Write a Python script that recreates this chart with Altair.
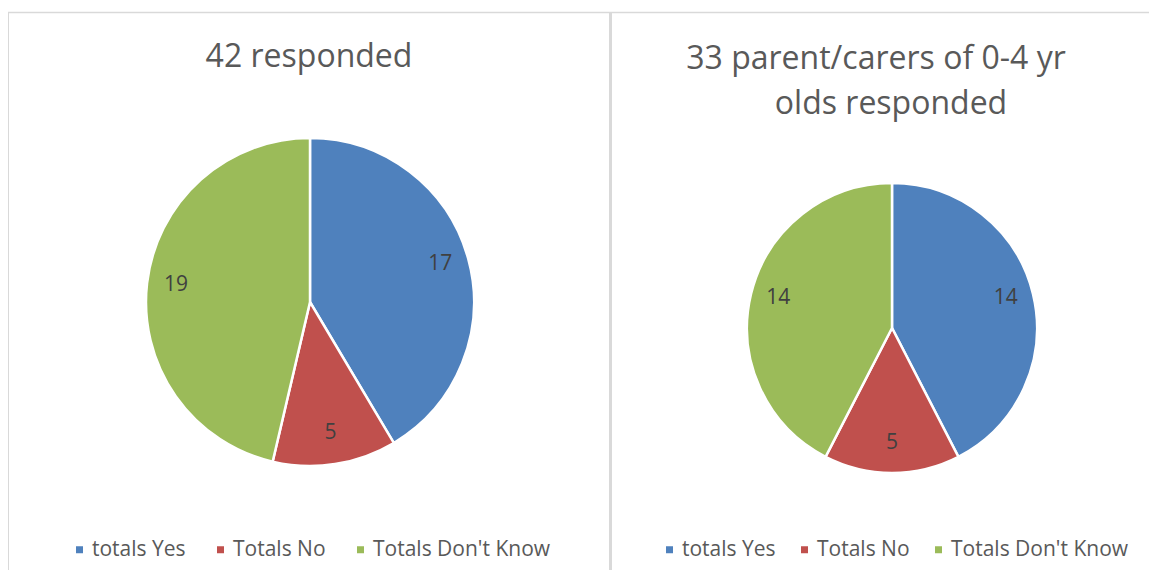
import altair as alt
import pandas as pd

categories = ["totals Yes", "Totals No", "Totals Don't Know"]
left_values = [17, 5, 19]
right_values = [14, 5, 14]
left_title = "42 responded"
right_title = ["33 parent/carers of 0-4 yr", "olds responded"]
colors = ["#4F81BD", "#C0504D", "#9BBB59"]

FONT = "Open Sans"
W, H = 1141, 562

left_df = pd.DataFrame({"cat": categories, "count": left_values, "idx": list(range(3))})
right_df = pd.DataFrame({"cat": categories, "count": right_values, "idx": list(range(3))})
one = pd.DataFrame({"a": [0]})


def pie(df, cx, cy, r, lx, ly, lr, colpad):
    legend = alt.Legend(
        orient="none", legendX=lx, legendY=ly, direction="horizontal", title=None,
        symbolType="square", symbolSize=49, symbolStrokeWidth=0,
        labelFontSize=21, labelFont=FONT, labelColor="#595959", labelLimit=400,
        columnPadding=colpad, labelOffset=2, padding=0,
    )
    base = alt.Chart(df)
    arc = base.mark_arc(radius=r, stroke="white", strokeWidth=2.5).encode(
        theta=alt.Theta("count:Q", stack=True),
        color=alt.Color("cat:N", scale=alt.Scale(domain=categories, range=colors),
                        sort=categories, legend=legend),
        order=alt.Order("idx:Q"),
        x=alt.value(cx), y=alt.value(cy),
    )
    txt = base.mark_text(radius=lr, fontSize=21, font=FONT, color="#404040").encode(
        theta=alt.Theta("count:Q", stack=True),
        text=alt.Text("count:Q"),
        order=alt.Order("idx:Q"),
        x=alt.value(cx), y=alt.value(cy - 2),
    )
    return alt.layer(arc, txt)


border = "#d9d9d9"
top_line = alt.Chart(one).mark_rule(color=border, strokeWidth=1.5).encode(
    x=alt.value(0), x2=alt.value(W), y=alt.value(4.5))
left_line = alt.Chart(one).mark_rule(color=border, strokeWidth=2).encode(
    x=alt.value(0), y=alt.value(4), y2=alt.value(H))
mid_line = alt.Chart(one).mark_rule(color=border, strokeWidth=3).encode(
    x=alt.value(602.5), y=alt.value(4), y2=alt.value(H))

title_style = dict(fontSize=32, font=FONT, color="#595959", baseline="alphabetic", align="center")
t1 = alt.Chart(one).mark_text(**title_style).encode(
    text=alt.value(left_title), x=alt.value(301), y=alt.value(59))
t2 = alt.Chart(one).mark_text(**title_style).encode(
    text=alt.value(right_title[0]), x=alt.value(868), y=alt.value(61))
t3 = alt.Chart(one).mark_text(**title_style).encode(
    text=alt.value(right_title[1]), x=alt.value(883), y=alt.value(106))

left_pie = pie(left_df, 302, 294, 164, 61, 531, 135, 24)
right_pie = pie(right_df, 884, 320, 145, 651, 531, 117, 18)

chart = alt.layer(
    top_line, left_line, mid_line, t1, t2, t3, left_pie, right_pie
).resolve_scale(color="independent", theta="independent").properties(
    width=W, height=H, autosize=alt.AutoSizeParams(type="none"), padding=0,
).configure_view(strokeWidth=0)

chart.save("out.html", embed_options={"renderer": "svg", "actions": False})
